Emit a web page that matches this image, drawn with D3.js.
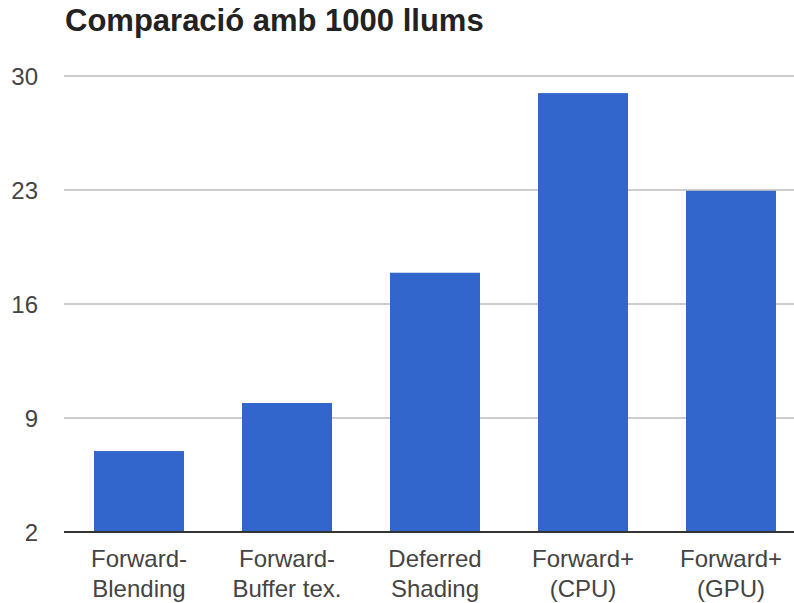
<!DOCTYPE html>
<html>
<head>
<meta charset="utf-8">
<script src="https://cdn.jsdelivr.net/npm/d3@7"></script>
<style>
  html, body { margin: 0; padding: 0; background: #fff; }
  svg { display: block; font-family: "Liberation Sans", Arial, sans-serif; }
</style>
</head>
<body>
<svg id="chart" width="794" height="603"></svg>
<script>
// Frame rate comparison with 1000 lights
const title = "Comparació amb 1000 llums";
const categories = [
  ["Forward-", "Blending"],
  ["Forward-", "Buffer tex."],
  ["Deferred", "Shading"],
  ["Forward+", "(CPU)"],
  ["Forward+", "(GPU)"]
];
const values = [6.97, 9.92, 17.92, 28.95, 22.95];
const yTicks = [2, 9, 16, 23, 30];

const svg = d3.select("#chart");
const plotLeft = 65, plotRight = 805, plotTop = 76, plotBottom = 532;

const x = d3.scaleBand()
  .domain(d3.range(categories.length))
  .range([plotLeft, plotRight])
  .paddingInner(58 / 148)
  .paddingOuter(29 / 148);

const y = d3.scaleLinear().domain([2, 30]).range([plotBottom, plotTop]);

// Gridlines
svg.append("g")
  .selectAll("line")
  .data(yTicks.slice(1))
  .join("line")
  .attr("x1", 64).attr("x2", 794)
  .attr("y1", d => y(d)).attr("y2", d => y(d))
  .attr("stroke", "#cccccc")
  .attr("stroke-width", 2);

// Y tick labels
svg.append("g")
  .selectAll("text")
  .data(yTicks)
  .join("text")
  .attr("x", 38)
  .attr("y", d => y(d))
  .attr("dy", "0.36em")
  .attr("text-anchor", "end")
  .attr("font-size", 24)
  .attr("fill", "#444")
  .text(d => d);

// Bars
svg.append("g")
  .selectAll("rect")
  .data(values)
  .join("rect")
  .attr("x", (d, i) => x(i))
  .attr("width", x.bandwidth())
  .attr("y", d => y(d))
  .attr("height", d => y(2) - y(d))
  .attr("fill", "#3366cc");

// Baseline
svg.append("line")
  .attr("x1", 64).attr("x2", 794)
  .attr("y1", y(2)).attr("y2", y(2))
  .attr("stroke", "#333")
  .attr("stroke-width", 2);

// Category labels (two lines)
const xl = svg.append("g")
  .selectAll("text")
  .data(categories)
  .join("text")
  .attr("x", (d, i) => x(i) + x.bandwidth() / 2)
  .attr("y", 567)
  .attr("text-anchor", "middle")
  .attr("font-size", 24)
  .attr("fill", "#444");
xl.selectAll("tspan")
  .data(d => d)
  .join("tspan")
  .attr("x", function() { return this.parentNode.getAttribute("x"); })
  .attr("dy", (d, i) => i === 0 ? 0 : 30)
  .text(d => d);

// Title
svg.append("text")
  .attr("x", 65)
  .attr("y", 31)
  .attr("font-size", 31)
  .attr("font-weight", "bold")
  .attr("fill", "#222")
  .text(title);
</script>
</body>
</html>
